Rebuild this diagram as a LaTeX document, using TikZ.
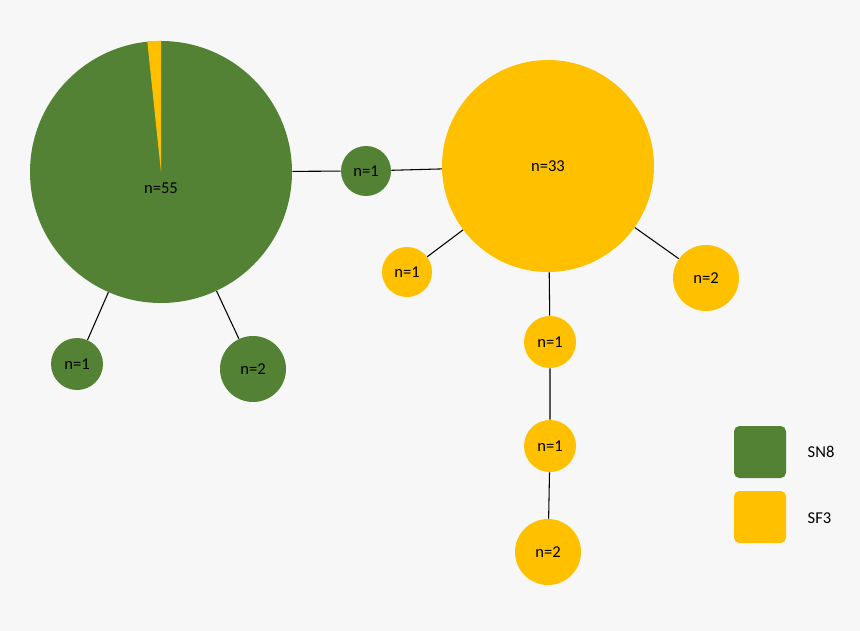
\documentclass[tikz,border=0pt]{standalone}
\usepackage{fontspec}
\setmainfont{Carlito}
\usetikzlibrary{backgrounds}
\definecolor{sngreen}{HTML}{548235}
\definecolor{sfyellow}{HTML}{FFC000}
\definecolor{bggray}{HTML}{F7F7F7}
\tikzset{
  hap/.style={circle, inner sep=0pt, font=\fontsize{12.5}{14}\selectfont},
  sn/.style={hap, fill=sngreen},
  sf/.style={hap, fill=sfyellow},
  link/.style={draw=black, line width=0.8pt},
  key/.style={rectangle, rounded corners=4pt, minimum size=52\pxu, inner sep=0pt},
  keytext/.style={anchor=west, font=\fontsize{12.5}{14}\selectfont}
}
\newlength{\pxu}
\setlength{\pxu}{0.0265cm}
\begin{document}
\begin{tikzpicture}[x=0.0265cm, y=-0.0265cm]
  \useasboundingbox (0,0) rectangle (860,631);

  % Haplotypes
  \node[sn, minimum size=262\pxu] (big55) at (161,172) {};
  \fill[sfyellow] (big55.center) -- (big55.90) -- (big55.96.5) -- cycle;
  \node[font=\fontsize{12.5}{14}\selectfont] (lab55) at (161,188) {n=55};
  \node[sn, minimum size=50\pxu] (g1a) at (366,171) {n=1};
  \node[sn, minimum size=52\pxu] (g1b) at (77,364) {n=1};
  \node[sn, minimum size=66\pxu] (g2) at (253,369) {n=2};
  \node[sf, minimum size=212\pxu] (big33) at (548,166) {n=33};
  \node[sf, minimum size=50\pxu] (y1a) at (407,272) {n=1};
  \node[sf, minimum size=66\pxu] (y2a) at (706,278) {n=2};
  \node[sf, minimum size=52\pxu] (y1b) at (550,342) {n=1};
  \node[sf, minimum size=52\pxu] (y1c) at (550,446) {n=1};
  \node[sf, minimum size=66\pxu] (y2b) at (548,552) {n=2};

  % Legend
  \node[key, fill=sngreen] (keysn) at (760,452) {};
  \node[key, fill=sfyellow] (keysf) at (760,517) {};
  \node[keytext] (txtsn) at (803,452) {SN8};
  \node[keytext] (txtsf) at (803,518) {SF3};

  % Links
  \begin{scope}[on background layer]
    \fill[bggray] (0,0) rectangle (860,631);
    \draw[link] (big55) -- (g1a) -- (big33);
    \draw[link] (big55) -- (g1b);
    \draw[link] (big55) -- (g2);
    \draw[link] (big33) -- (y1a);
    \draw[link] (big33) -- (y2a);
    \draw[link] (big33) -- (y1b) -- (y1c) -- (y2b);
  \end{scope}

\end{tikzpicture}
\end{document}
